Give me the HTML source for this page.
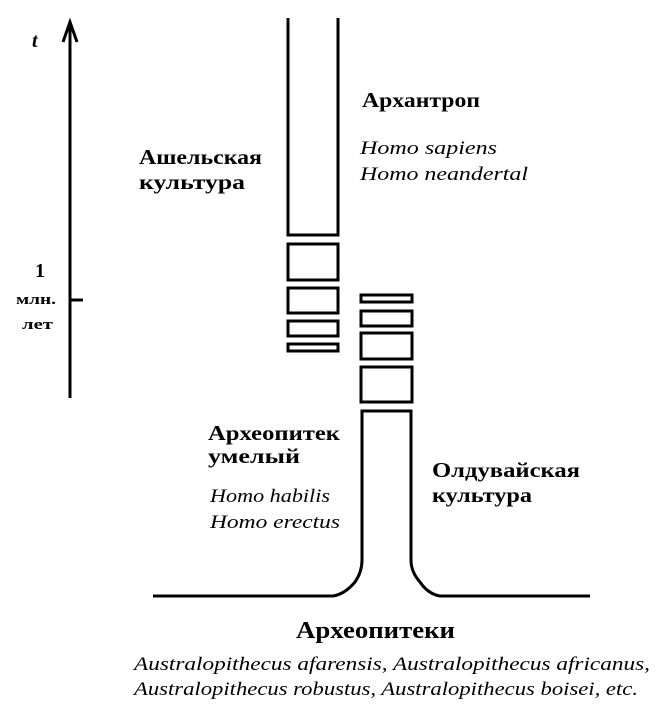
<!DOCTYPE html>
<html><head><meta charset="utf-8"><style>
body{margin:0;background:#fff}
svg{display:block}
.b{font-family:"Liberation Serif",serif;font-weight:bold;fill:#000}
.i{font-family:"Liberation Serif",serif;font-style:italic;fill:#000}
</style></head><body>
<svg width="671" height="711" viewBox="0 0 671 711" xmlns="http://www.w3.org/2000/svg">
<g stroke="#000" stroke-width="3" fill="none">
<line x1="70" y1="24" x2="70" y2="398"/>
<polyline points="63,42 70,22 77,42"/>
<line x1="70" y1="300" x2="83" y2="300"/>
<polyline points="288,18 288,235 338,235 338,18"/>
<rect x="288" y="244" width="50" height="36"/>
<rect x="288" y="288" width="50" height="25"/>
<rect x="288" y="321" width="50" height="15"/>
<rect x="288" y="344" width="50" height="7"/>
<rect x="361" y="295" width="51" height="7"/>
<rect x="361" y="311" width="51" height="15"/>
<rect x="361" y="333" width="51" height="26"/>
<rect x="361" y="367" width="51" height="35"/>
<path d="M153,596 L333,596 Q345,594 355,582 Q362,572 362,560 L362,411 L411,411 L411,560 Q411,572 420,582 Q428,594 440,596 L590,596"/>
</g>
<g lengthAdjust="spacingAndGlyphs">
<text class="b" x="32" y="47" font-size="20" font-style="italic">t</text>
<text class="b" x="35" y="277" font-size="20">1</text>
<text class="b" x="16" y="304" font-size="15" textLength="40" lengthAdjust="spacingAndGlyphs">млн.</text>
<text class="b" x="22" y="329" font-size="15" textLength="31" lengthAdjust="spacingAndGlyphs">лет</text>
<text class="b" x="362" y="107" font-size="21" textLength="118" lengthAdjust="spacingAndGlyphs">Архантроп</text>
<text class="i" x="360" y="154" font-size="19" textLength="137" lengthAdjust="spacingAndGlyphs">Homo sapiens</text>
<text class="i" x="360" y="180" font-size="19" textLength="168" lengthAdjust="spacingAndGlyphs">Homo neandertal</text>
<text class="b" x="139" y="164" font-size="21" textLength="123" lengthAdjust="spacingAndGlyphs">Ашельская</text>
<text class="b" x="139" y="189" font-size="21" textLength="106" lengthAdjust="spacingAndGlyphs">культура</text>
<text class="b" x="208" y="440" font-size="21" textLength="132" lengthAdjust="spacingAndGlyphs">Археопитек</text>
<text class="b" x="208" y="463" font-size="21" textLength="92" lengthAdjust="spacingAndGlyphs">умелый</text>
<text class="i" x="210" y="502" font-size="19" textLength="120" lengthAdjust="spacingAndGlyphs">Homo habilis</text>
<text class="i" x="210" y="528" font-size="19" textLength="130" lengthAdjust="spacingAndGlyphs">Homo erectus</text>
<text class="b" x="432" y="477" font-size="21" textLength="148" lengthAdjust="spacingAndGlyphs">Олдувайская</text>
<text class="b" x="432" y="502" font-size="21" textLength="100" lengthAdjust="spacingAndGlyphs">культура</text>
<text class="b" x="296" y="638" font-size="24" textLength="159" lengthAdjust="spacingAndGlyphs">Археопитеки</text>
<text class="i" x="134" y="670" font-size="19" textLength="516" lengthAdjust="spacingAndGlyphs">Australopithecus afarensis, Australopithecus africanus,</text>
<text class="i" x="134" y="695" font-size="19" textLength="504" lengthAdjust="spacingAndGlyphs">Australopithecus robustus, Australopithecus boisei, etc.</text>
</g>
</svg>
</body></html>
